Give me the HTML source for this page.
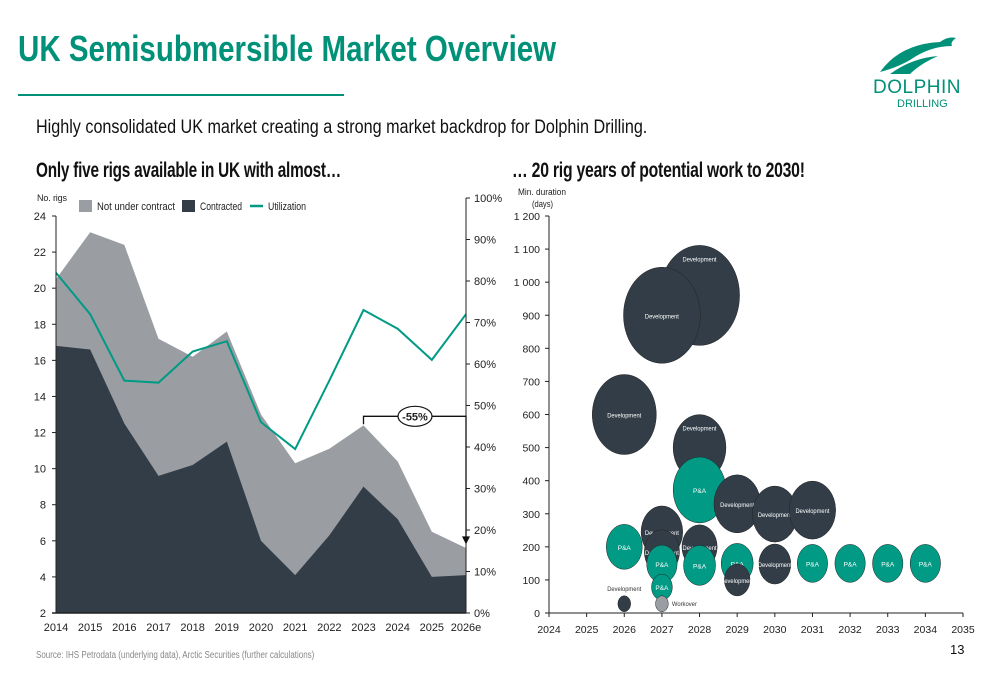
<!DOCTYPE html>
<html><head><meta charset="utf-8"><style>
body{margin:0;width:1000px;height:685px;background:#fff;overflow:hidden;font-family:"Liberation Sans",sans-serif;position:relative;color:#111}
.abs{position:absolute}
.sq{transform-origin:0 0;white-space:nowrap}
</style></head><body>
<div class="abs sq" style="left:18px;top:28px;font-size:36px;font-weight:bold;color:#009178;transform:scaleX(0.82)">UK Semisubmersible Market Overview</div>
<div class="abs" style="left:18px;top:94px;width:326px;height:2px;background:#009178"></div>
<div class="abs sq" style="left:36px;top:117px;font-size:19px;transform:scaleX(0.85)">Highly consolidated UK market creating a strong market backdrop for Dolphin Drilling.</div>
<div class="abs sq" style="left:36px;top:159px;font-size:21px;font-weight:bold;transform:scaleX(0.73);letter-spacing:-0.3px">Only five rigs available in UK with almost…</div>
<div class="abs sq" style="left:512px;top:159px;font-size:21px;font-weight:bold;transform:scaleX(0.75);letter-spacing:-0.3px">… 20 rig years of potential work to 2030!</div>
<div class="abs" style="left:860px;top:30px;width:120px;height:85px">
<svg width="120" height="85"><path d="M20 42 Q40 14 80 12 Q88 6 96 8 Q90 12 92 16 Q70 16 50 30 Q36 38 20 42Z" fill="#009178"/><path d="M30 44 Q52 28 78 26 Q60 34 50 44Z" fill="#009178"/></svg>
<div class="abs" style="left:13px;top:47px;font-size:19px;color:#009178;letter-spacing:0.5px">DOLPHIN</div>
<div class="abs" style="left:37px;top:68px;font-size:11px;color:#009178">DRILLING</div>
</div>
<div class="abs sq" style="left:36px;top:650px;font-size:10px;color:#888;transform:scaleX(0.8)">Source: IHS Petrodata (underlying data), Arctic Securities (further calculations)</div>
<div class="abs" style="left:950px;top:642px;font-size:13px">13</div>
<svg class="abs" style="left:0;top:0" width="1000" height="685" id="charts" font-family="Liberation Sans, sans-serif"></svg>
<script>
const years=["2014","2015","2016","2017","2018","2019","2020","2021","2022","2023","2024","2025","2026e"];
const totalRigs=[20.5,23.1,22.4,17.2,16.2,17.6,13.0,10.3,11.1,12.4,10.4,6.5,5.6];
const contracted=[16.8,16.6,12.5,9.6,10.2,11.5,6.0,4.1,6.3,9.0,7.2,4.0,4.1];
const utilization=[82,72,56,55.5,63,65.5,46,39.5,56,73,68.5,61,72];
const leftTicks=[2,4,6,8,10,12,14,16,18,20,22,24];
const rightTicks=[0,10,20,30,40,50,60,70,80,90,100];
const bxTicks=[2024,2025,2026,2027,2028,2029,2030,2031,2032,2033,2034,2035];
const byTicks=[0,100,200,300,400,500,600,700,800,900,1000,1100,1200];
const bubbleYear=[2028,2027,2026,2028,2028,2029,2030,2031,2027,2027,2028,2026,2027,2028,2029,2029,2030,2031,2032,2033,2034,2027,2026,2027];
const bubbleDays=[960,900,600,500,372,330,299,311,245,185,200,200,148,144,150,100,148,150,150,150,150,78,28,28];
const bubbleSize=[50,48,40,33,33,29,28,29,26,22,22,22.5,19,20,20,16,20,19,19,19,19,13,8,8];
const bubbleType=["Development","Development","Development","Development","P&A","Development","Development","Development","Development","Development","Development","P&A","P&A","P&A","P&A","Development","Development","P&A","P&A","P&A","P&A","P&A","Development","Workover"];
const svg=document.getElementById('charts');
const NS='http://www.w3.org/2000/svg';
function mk(t,a,p){const e=document.createElementNS(NS,t);for(const k in a)e.setAttribute(k,a[k]);(p||svg).appendChild(e);return e;}
function tx(x,y,s,o){const e=mk('text',Object.assign({x:x,y:y,'font-size':11,fill:'#222'},o||{}));e.textContent=s;return e;}
const lx=i=>56+i*410/12, ly=v=>613-(v-2)*397/22, ry=v=>613-v*4.15;
let d='M'+lx(0)+','+ly(2);totalRigs.forEach((v,i)=>d+=' L'+lx(i)+','+ly(v));d+=' L'+lx(12)+','+ly(2)+'Z';
let a1=mk('path',{d:d,fill:'#9a9ea3'});


d='M'+lx(0)+','+ly(2);contracted.forEach((v,i)=>d+=' L'+lx(i)+','+ly(v));d+=' L'+lx(12)+','+ly(2)+'Z';
let a2=mk('path',{d:d,fill:'#323d47'});


let l1=mk('polyline',{points:utilization.map((v,i)=>lx(i)+','+ry(v)).join(' '),fill:'none',stroke:'#009a85','stroke-width':2});


mk('line',{x1:56,y1:216,x2:56,y2:613,stroke:'#222'});
mk('line',{x1:52,y1:613,x2:466,y2:613,stroke:'#222','stroke-width':1.5});
mk('line',{x1:466,y1:198,x2:466,y2:613,stroke:'#222'});
leftTicks.forEach(v=>{mk('line',{x1:52,y1:ly(v),x2:56,y2:ly(v),stroke:'#222'});let t=tx(46,ly(v)+4,v,{'text-anchor':'end'});});
rightTicks.forEach(v=>{mk('line',{x1:466,y1:ry(v),x2:470,y2:ry(v),stroke:'#222'});let t=tx(474,ry(v)+4,v+'%');});
years.forEach((y,i)=>{let t=tx(lx(i),631,y,{'text-anchor':'middle'});});
tx(37,201,'No. rigs',{'font-size':9,textLength:30});
mk('rect',{x:79,y:200,width:13,height:12,fill:'#9a9ea3'});tx(97,210,'Not under contract',{textLength:78,lengthAdjust:'spacingAndGlyphs'});
mk('rect',{x:182,y:200,width:13,height:12,fill:'#323d47'});tx(200,210,'Contracted',{textLength:42,lengthAdjust:'spacingAndGlyphs'});
mk('line',{x1:250,y1:206,x2:263,y2:206,stroke:'#009a85','stroke-width':2.5});tx(268,210,'Utilization',{textLength:38,lengthAdjust:'spacingAndGlyphs'});
const ay=ly(12.9);
mk('polyline',{points:lx(9)+','+(ay+8)+' '+lx(9)+','+ay+' '+lx(12)+','+ay+' '+lx(12)+','+(ly(5.8)-6),fill:'none',stroke:'#111','stroke-width':1.3});
mk('path',{d:'M'+(lx(12)-4)+','+(ly(5.8)-8)+' L'+(lx(12)+4)+','+(ly(5.8)-8)+' L'+lx(12)+','+ly(5.8)+'Z',fill:'#111'});
mk('ellipse',{cx:415,cy:ay,rx:17,ry:10,fill:'#fff',stroke:'#111','stroke-width':1.2});
let an=tx(415,ay+4,'-55%',{'text-anchor':'middle','font-weight':'bold','font-size':11});


const bx=v=>549+(v-2024)*414/11, by=v=>613-v*397/1200;
bubbleYear.forEach((yr,i)=>{
 const t=bubbleType[i];const col=t==='P&A'?'#009a85':t==='Workover'?'#9a9ea3':'#323d47';
 const r=bubbleSize[i];
 const e=mk('ellipse',{cx:bx(yr),cy:by(bubbleDays[i]),rx:r*0.8,ry:r,fill:col,stroke:'#222','stroke-width':0.5});
 
 
 if(r>9){let ty=by(bubbleDays[i])+3; if(i===0||i===3) ty=by(bubbleDays[i])-r+16;
  const o={'text-anchor':'middle','font-size':6.5,fill:'#fff'}; if(t==='Development'){o.textLength=34;o.lengthAdjust='spacingAndGlyphs';}
  tx(bx(yr),ty,t,o);}
});
tx(bx(2026),591,'Development',{'text-anchor':'middle','font-size':6.5,fill:'#333',textLength:34,lengthAdjust:'spacingAndGlyphs'});
tx(bx(2027)+10,606,'Workover',{'font-size':6.5,fill:'#333',textLength:25,lengthAdjust:'spacingAndGlyphs'});
mk('line',{x1:549,y1:216,x2:549,y2:613,stroke:'#222'});
mk('line',{x1:549,y1:613,x2:963,y2:613,stroke:'#222'});
byTicks.forEach(v=>{mk('line',{x1:545,y1:by(v),x2:549,y2:by(v),stroke:'#222'});let t=tx(540,by(v)+4,v>=1000?(Math.floor(v/1000)+' '+String(v%1000).padStart(3,'0')):v,{'text-anchor':'end','font-size':10.5});});
bxTicks.forEach(v=>{mk('line',{x1:bx(v),y1:613,x2:bx(v),y2:617,stroke:'#222'});let t=tx(bx(v),633,v,{'text-anchor':'middle','font-size':10.5});});
tx(518,195,'Min. duration',{'font-size':9,textLength:48,lengthAdjust:'spacingAndGlyphs'});tx(532,207,'(days)',{'font-size':9,textLength:21,lengthAdjust:'spacingAndGlyphs'});
</script>
</body></html>
